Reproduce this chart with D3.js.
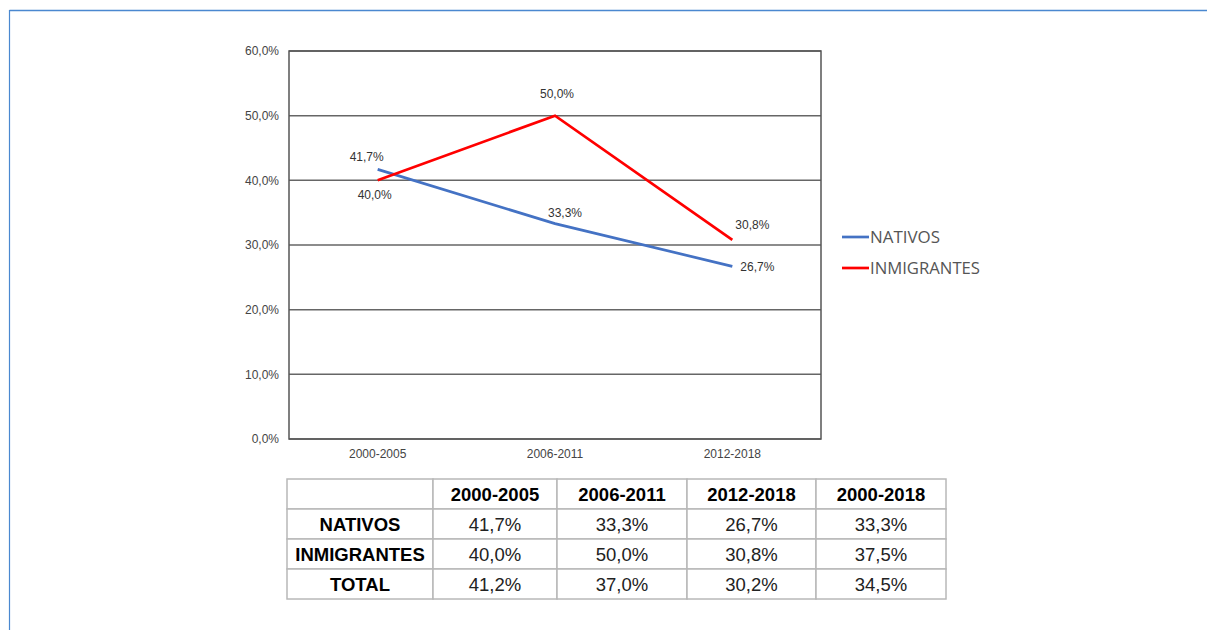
<!DOCTYPE html>
<html>
<head>
<meta charset="utf-8">
<script src="https://cdn.jsdelivr.net/npm/d3@7"></script>
<style>
  html, body { margin: 0; padding: 0; background: #fff; }
  svg { display: block; }
</style>
</head>
<body>
<svg id="chart" width="1207" height="630"></svg>
<script>
// ---- data ----
const categories = ["2000-2005", "2006-2011", "2012-2018"];
const seriesNames = ["NATIVOS", "INMIGRANTES"];
const nativos = [41.7, 33.3, 26.7];
const inmigrantes = [40.0, 50.0, 30.8];
const yTicks = [0, 10, 20, 30, 40, 50, 60];
const tableHeader = ["", "2000-2005", "2006-2011", "2012-2018", "2000-2018"];
const tableRowLabels = ["NATIVOS", "INMIGRANTES", "TOTAL"];
const tableNativos = ["41,7%", "33,3%", "26,7%", "33,3%"];
const tableInmigrantes = ["40,0%", "50,0%", "30,8%", "37,5%"];
const tableTotal = ["41,2%", "37,0%", "30,2%", "34,5%"];

// ---- styles / layout ----
const colors = { NATIVOS: "#4472C4", INMIGRANTES: "#FF0000" };
const labelOffsets = {
  NATIVOS: [[-11, -8], [10, -7], [25, 5]],
  INMIGRANTES: [[-3, 19], [2, -18], [20, -11]]
};
const fmt = v => v.toFixed(1).replace(".", ",") + "%";

const svg = d3.select("#chart");

// page frame (blue border lines)
svg.append("line").attr("x1", 9.5).attr("x2", 1207).attr("y1", 10.5).attr("y2", 10.5)
  .attr("stroke", "#4a88d0").attr("stroke-width", 1.5);
svg.append("line").attr("x1", 9.5).attr("x2", 9.5).attr("y1", 10).attr("y2", 630)
  .attr("stroke", "#4a88d0").attr("stroke-width", 1.2);

const plot = { left: 289, right: 821, top: 51, bottom: 439 };

const x = d3.scaleBand().domain(categories).range([plot.left, plot.right]);
const y = d3.scaleLinear().domain([0, 60]).range([plot.bottom, plot.top]);

// gridlines
svg.append("g").selectAll("line").data(yTicks).join("line")
  .attr("x1", plot.left).attr("x2", plot.right)
  .attr("y1", d => y(d)).attr("y2", d => y(d))
  .attr("stroke", "#666").attr("stroke-width", 1.5);

// plot frame
svg.append("rect")
  .attr("x", plot.left).attr("y", plot.top)
  .attr("width", plot.right - plot.left).attr("height", plot.bottom - plot.top)
  .attr("fill", "none").attr("stroke", "#555").attr("stroke-width", 1.5);

// y axis labels
const yAxis = d3.axisLeft(y).tickValues(yTicks).tickFormat(fmt).tickSize(0).tickPadding(10);
const yg = svg.append("g").attr("transform", `translate(${plot.left},0)`).call(yAxis);
yg.select(".domain").remove();
yg.selectAll("text").attr("font-family", "Liberation Sans, Arial, sans-serif")
  .attr("font-size", 12).attr("fill", "#444");

// x axis labels
const xAxis = d3.axisBottom(x).tickSize(0).tickPadding(10);
const xg = svg.append("g").attr("transform", `translate(0,${plot.bottom})`).call(xAxis);
xg.select(".domain").remove();
xg.selectAll("text").attr("font-family", "Liberation Sans, Arial, sans-serif")
  .attr("font-size", 12).attr("fill", "#444");

const cx = c => x(c) + x.bandwidth() / 2;
const line = d3.line().x((d, i) => cx(categories[i])).y(d => y(d));

const seriesData = [
  { name: "NATIVOS", values: nativos },
  { name: "INMIGRANTES", values: inmigrantes }
];

seriesData.forEach(s => {
  svg.append("path").datum(s.values)
    .attr("d", line).attr("fill", "none")
    .attr("stroke", colors[s.name]).attr("stroke-width", 2.7)
    .attr("stroke-linejoin", "miter");
  svg.append("g").selectAll("text").data(s.values).join("text")
    .attr("x", (d, i) => cx(categories[i]) + labelOffsets[s.name][i][0])
    .attr("y", (d, i) => y(d) + labelOffsets[s.name][i][1])
    .attr("text-anchor", "middle")
    .attr("font-family", "Liberation Sans, Arial, sans-serif")
    .attr("font-size", 12).attr("fill", "#333")
    .text(d => fmt(d));
});

// legend
const legend = svg.append("g");
seriesNames.forEach((n, i) => {
  const ly = 237 + i * 31;
  legend.append("line").attr("x1", 842).attr("x2", 869).attr("y1", ly).attr("y2", ly)
    .attr("stroke", colors[n]).attr("stroke-width", 2.7);
  legend.append("text").attr("x", 870).attr("y", ly + 6)
    .attr("font-family", "Open Sans, sans-serif")
    .attr("font-size", 16.5).attr("fill", "#555")
    .attr("textLength", n.length > 8 ? 110 : 70).attr("lengthAdjust", "spacingAndGlyphs")
    .text(n);
});

// table
const colEdges = [287, 433, 557, 687, 816, 946];
const rowEdges = [479, 509, 539, 569, 599];
const tableRows = [
  tableHeader,
  [tableRowLabels[0], ...tableNativos],
  [tableRowLabels[1], ...tableInmigrantes],
  [tableRowLabels[2], ...tableTotal]
];
const tg = svg.append("g");
tableRows.forEach((row, r) => {
  row.forEach((cell, c) => {
    tg.append("rect")
      .attr("x", colEdges[c]).attr("y", rowEdges[r])
      .attr("width", colEdges[c + 1] - colEdges[c]).attr("height", rowEdges[r + 1] - rowEdges[r])
      .attr("fill", "#fff").attr("stroke", "#b8b8b8").attr("stroke-width", 1.5);
    const bold = r === 0 || c === 0;
    tg.append("text")
      .attr("x", (colEdges[c] + colEdges[c + 1]) / 2)
      .attr("y", (rowEdges[r] + rowEdges[r + 1]) / 2 + 6.5)
      .attr("text-anchor", "middle")
      .attr("font-family", "Liberation Sans, Arial, sans-serif")
      .attr("font-size", 18.5)
      .attr("font-weight", bold ? "bold" : "normal")
      .attr("fill", bold ? "#000" : "#222")
      .text(cell);
  });
});
</script>
</body>
</html>
